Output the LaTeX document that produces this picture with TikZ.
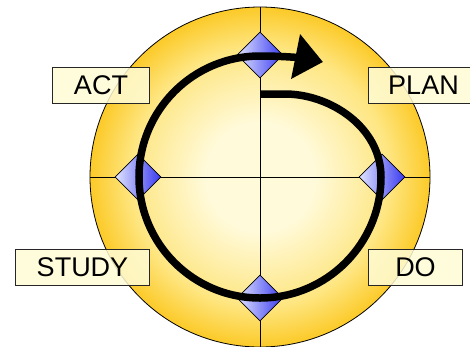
\documentclass[tikz,border=0pt]{standalone}
\usepackage{fontspec}
\setmainfont{Liberation Sans}
\usepackage{xcolor}
\definecolor{discin}{RGB}{255,250,218}
\definecolor{discmid}{RGB}{254,230,130}
\definecolor{discout}{RGB}{252,202,40}
\definecolor{gemlight}{RGB}{224,228,255}
\definecolor{gemdark}{RGB}{58,58,240}
\definecolor{labelfill}{RGB}{255,252,214}
\usepackage{tikz}
\usetikzlibrary{arrows.meta, positioning, shapes.geometric}
\pgfdeclareradialshading{discshade}{\pgfpoint{0bp}{0bp}}{color(0bp)=(discin); color(8bp)=(discin); color(19bp)=(discmid); color(25bp)=(discout); color(50bp)=(discout)}
\tikzset{
  gem/.style={diamond, draw, line width=0.8pt, inner sep=0pt, minimum width=46pt, minimum height=46pt, left color=gemlight, right color=gemdark},
  stagebox/.style={draw=black!85, line width=1pt, fill=labelfill, fill opacity=0.85, text opacity=1, minimum height=36pt, inner sep=0pt, font=\fontsize{27}{31}\selectfont},
}

\begin{document}
\begin{tikzpicture}[x=1pt, y=1pt, >=Stealth]
    \useasboundingbox (-260,-169) rectangle (210,177);
    \node[circle, minimum size=340pt, inner sep=0pt, draw, line width=0.8pt, shading=discshade] (disc) at (0,0) {};
    \draw[line width=0.8pt] (disc.west) -- (disc.east);
    \draw[line width=0.8pt] (disc.north) -- (disc.south);
    \node[gem] (gemtop) at (0,122) {};
    \node[gem] (gemright) at (122,0) {};
    \node[gem] (gembottom) at (0,-121) {};
    \node[gem] (gemleft) at (-122,0) {};
    % the cycle
    \draw[line width=7.5pt, -{Triangle[length=28pt, width=44pt]}] (0,83) -- (25,83) .. controls (70,83) and (121,50) .. (121,0)
        arc[start angle=0, end angle=-270, radius=121] .. controls (30,121) and (48,118) .. (63,115);
    \node[stagebox, minimum width=97pt, anchor=east] (act) at (-110,92) {ACT};
    \node[stagebox, minimum width=110pt, anchor=west] (plan) at (108,92) {PLAN};
    \node[stagebox, minimum width=134pt, anchor=east] (study) at (-110,-90) {STUDY};
    \node[stagebox, minimum width=94pt, anchor=west] (do) at (108,-90) {DO};
\end{tikzpicture}
\end{document}
